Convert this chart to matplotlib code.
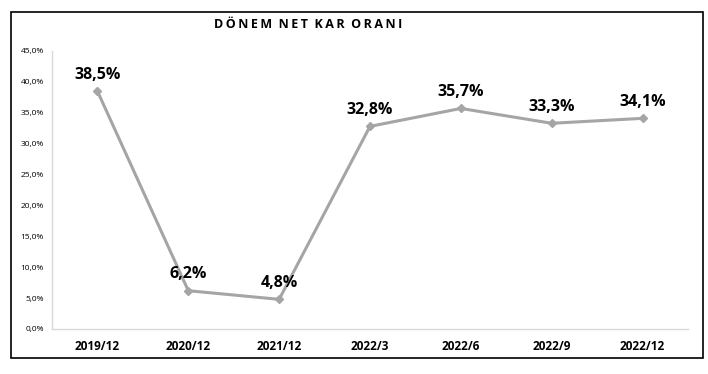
import matplotlib
matplotlib.use("Agg")
from matplotlib import pyplot as plt
from matplotlib.patches import Rectangle

donemler = ['2019/12', '2020/12', '2021/12', '2022/3', '2022/6', '2022/9', '2022/12']
oranlar = [38.5, 6.2, 4.8, 32.8, 35.7, 33.3, 34.1]
etiketler = ['38,5%', '6,2%', '4,8%', '32,8%', '35,7%', '33,3%', '34,1%']
y_ticks = [0, 5, 10, 15, 20, 25, 30, 35, 40, 45]

plt.rcParams['font.family'] = ['Open Sans', 'DejaVu Sans']

fig = plt.figure(figsize=(7.08, 3.74), dpi=100)
fig.patches.append(Rectangle((11 / 708, 1 - 358 / 374), 692 / 708, 346 / 374,
                             transform=fig.transFigure, fill=False,
                             edgecolor='black', linewidth=1.2))

ax = fig.add_axes([52 / 708, 1 - 329 / 374, 636 / 708, 278 / 374])
x = list(range(len(donemler)))
ax.plot(x, oranlar, color='#a5a5a5', linewidth=2.2, marker='D', markersize=4,
        markerfacecolor='#a5a5a5', markeredgecolor='#a5a5a5')

for xi, yi, t in zip(x, oranlar, etiketler):
    ax.annotate(t, (xi, yi), xytext=(0, 6), textcoords='offset points',
                ha='center', va='bottom', fontsize=11.5, fontweight='bold')

ax.set_xlim(-0.5, len(donemler) - 0.5)
ax.set_ylim(0, 45)
ax.set_yticks(y_ticks)
ax.set_yticklabels([f'{v:.1f}%'.replace('.', ',') for v in y_ticks], fontsize=6)
ax.set_xticks(x)
ax.set_xticklabels(donemler, fontsize=8.5, fontweight='bold')
ax.tick_params(length=0, pad=8)
ax.tick_params(axis='y', pad=6)

for s in ['top', 'right']:
    ax.spines[s].set_visible(False)
for s in ['left', 'bottom']:
    ax.spines[s].set_color('#d9d9d9')
    ax.spines[s].set_linewidth(1)

fig.text(308 / 708, 1 - 25 / 374, 'D\u2009Ö\u2009N\u2009E\u2009M  N\u2009E\u2009T  K\u2009A\u2009R  O\u2009R\u2009A\u2009N\u2009I',
         ha='center', va='center', fontsize=9, fontweight='bold')

fig.savefig('out.png', dpi=100)
